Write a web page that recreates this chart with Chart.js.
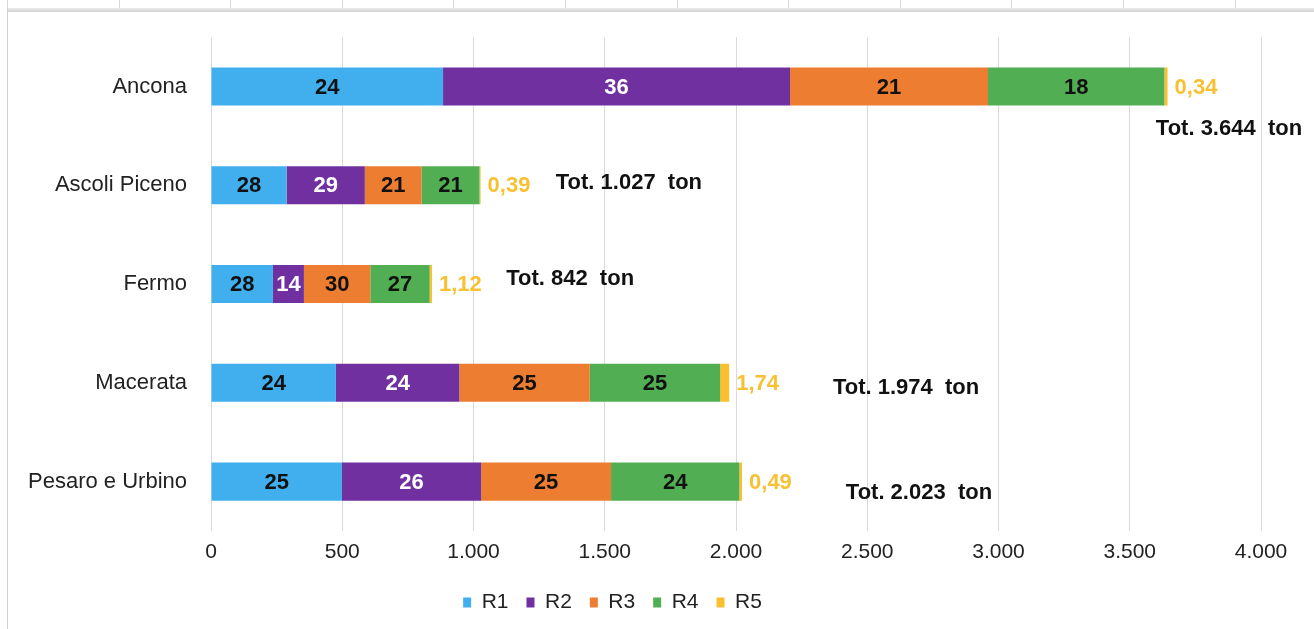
<!DOCTYPE html>
<html>
<head>
<meta charset="utf-8">
<script src="https://cdn.jsdelivr.net/npm/chart.js@4"></script>
<style>
    html, body { margin: 0; padding: 0; background: #fff; }
    body { width: 1314px; height: 629px; position: relative; overflow: hidden; }
    #grafico { position: absolute; left: 0; top: 0; }
    .rand-oben { position: absolute; left: 7px; right: 0; top: 8px; height: 4px; background: linear-gradient(#ececec, #d2d2d2); }
    .rand-links { position: absolute; left: 7px; top: 8px; bottom: 0; width: 1px; background: #d2d2d2; }
    .striche { position: absolute; left: 7px; right: 0; top: 0; height: 8px;
               background: repeating-linear-gradient(90deg, #d6d6d6 0 1px, transparent 1px 111.6px); }
</style>
</head>
<body>
<div class="striche"></div>
<div class="rand-oben"></div>
<div class="rand-links"></div>
<canvas id="grafico" width="1314" height="629"></canvas>
<script>
// Dati (tonnellate per classe)
const province = ['Ancona', 'Ascoli Piceno', 'Fermo', 'Macerata', 'Pesaro e Urbino'];
const serie = ['R1', 'R2', 'R3', 'R4', 'R5'];
const r1 = [884, 288, 236, 476, 499];
const r2 = [1322, 298, 118, 470, 530];
const r3 = [754, 216, 253, 497, 495];
const r4 = [672, 221, 226, 497, 489];
const r5 = [12, 4, 9, 34, 10];

// Etichette percentuali mostrate sulle barre
const pct1 = ['24', '28', '28', '24', '25'];
const pct2 = ['36', '29', '14', '24', '26'];
const pct3 = ['21', '21', '30', '25', '25'];
const pct4 = ['18', '21', '27', '25', '24'];
const pct5 = ['0,34', '0,39', '1,12', '1,74', '0,49'];

// Posizione delle caselle "Tot." (centro in tonnellate, scarto verticale in px)
const totPosX = [3878, 1592, 1368, 2648, 2697];
const totDy = [42, -2, -5, 5, 11];

const colori = ['#41AFED', '#7030A0', '#ED7D31', '#52AE52', '#FAC02E'];
const coloriTesto = ['#111', '#fff', '#111', '#111', '#F8C133'];
const FONT = 'Helvetica, Arial, "Liberation Sans", sans-serif';

const fmt = (n) => String(n).replace(/\B(?=(\d{3})+(?!\d))/g, '.');

const valori = [r1, r2, r3, r4, r5];
const etichette = [pct1, pct2, pct3, pct4, pct5];
const totali = province.map((p, i) => valori.reduce((s, arr) => s + arr[i], 0));

Chart.defaults.font.family = FONT;

const etichettePlugin = {
    id: 'etichette',
    afterLayout(chart) {
        // legenda spostata come nell'originale
        chart.legend.left -= 18;
        chart.legend.right -= 18;
    },
    afterDatasetsDraw(chart) {
        const ctx = chart.ctx;
        ctx.save();
        ctx.font = 'bold 22px ' + FONT;
        ctx.textBaseline = 'middle';
        chart.data.datasets.forEach((ds, di) => {
            const meta = chart.getDatasetMeta(di);
            meta.data.forEach((bar, i) => {
                const txt = etichette[di][i];
                ctx.fillStyle = coloriTesto[di];
                if (di === 4) {
                    ctx.textAlign = 'left';
                    ctx.fillText(txt, bar.x + 7, bar.y + 1);
                } else {
                    ctx.textAlign = 'center';
                    ctx.fillText(txt, (bar.x + bar.base) / 2, bar.y + 1);
                }
            });
        });
        // Totali
        const xs = chart.scales.x;
        const ys = chart.scales.y;
        ctx.fillStyle = '#111';
        ctx.textAlign = 'center';
        totali.forEach((t, i) => {
            const x = xs.getPixelForValue(totPosX[i]);
            const y = ys.getPixelForValue(i) + totDy[i];
            ctx.fillText('Tot. ' + fmt(t) + '  ton', x, y);
        });
        ctx.restore();
    }
};

const ctx = document.getElementById('grafico').getContext('2d');
new Chart(ctx, {
    type: 'bar',
    data: {
        labels: province,
        datasets: serie.map((s, i) => ({
            label: s,
            data: valori[i],
            backgroundColor: colori[i],
            borderWidth: 0,
            categoryPercentage: 1,
            barPercentage: 0.385
        }))
    },
    options: {
        indexAxis: 'y',
        responsive: false,
        animation: false,
        layout: { padding: { top: 36, right: 53, left: 0, bottom: 6 } },
        plugins: {
            tooltip: { enabled: false },
            legend: {
                position: 'bottom',
                labels: {
                    boxWidth: 8,
                    boxHeight: 10,
                    padding: 18,
                    color: '#222',
                    font: { size: 21 }
                }
            }
        },
        scales: {
            x: {
                stacked: true,
                min: 0,
                max: 4000,
                ticks: { stepSize: 500, callback: (v) => fmt(v), color: '#222', font: { size: 21 }, padding: 9 },
                grid: { color: '#d9d9d9', drawTicks: false },
                border: { display: false },
                afterFit: (s) => { s.height = 43; }
            },
            y: {
                stacked: true,
                grid: { display: false, drawTicks: false },
                border: { display: false },
                ticks: { color: '#222', font: { size: 22 }, padding: 24 },
                afterFit: (s) => { s.width = 211; }
            }
        }
    },
    plugins: [etichettePlugin]
});
</script>
</body>
</html>
